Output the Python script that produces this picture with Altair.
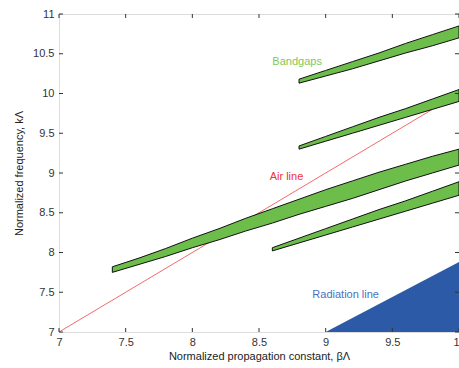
import altair as alt
import pandas as pd

# Bandgap 1 (long lower-left band)
b1_x = [7.4, 7.6, 7.8, 8.0, 8.2, 8.4, 8.6, 8.8, 9.0, 9.2, 9.4, 9.6, 9.8, 10.0]
b1_lo = [7.75, 7.85, 7.95, 8.06, 8.16, 8.27, 8.37, 8.48, 8.58, 8.68, 8.79, 8.90, 9.00, 9.10]
b1_hi = [7.82, 7.93, 8.05, 8.18, 8.30, 8.43, 8.55, 8.67, 8.79, 8.90, 9.01, 9.11, 9.21, 9.30]
# Bandgap 2
b2_x = [8.6, 8.8, 9.0, 9.2, 9.4, 9.6, 9.8, 10.0]
b2_lo = [8.02, 8.12, 8.22, 8.32, 8.42, 8.52, 8.62, 8.72]
b2_hi = [8.06, 8.18, 8.30, 8.42, 8.54, 8.65, 8.77, 8.89]
# Bandgap 3
b3_x = [8.8, 9.0, 9.2, 9.4, 9.6, 9.8, 10.0]
b3_lo = [9.30, 9.40, 9.50, 9.60, 9.70, 9.80, 9.90]
b3_hi = [9.34, 9.46, 9.58, 9.70, 9.81, 9.93, 10.05]
# Bandgap 4
b4_x = [8.8, 9.0, 9.2, 9.4, 9.6, 9.8, 10.0]
b4_lo = [10.13, 10.22, 10.31, 10.41, 10.51, 10.60, 10.70]
b4_hi = [10.18, 10.29, 10.40, 10.51, 10.63, 10.74, 10.85]

air_x = [7.0, 10.0]
air_y = [7.0, 10.0]

rad_x = [9.0, 9.5, 10.0]
rad_y = [7.0, 7.44, 7.88]

x_ticks = [7, 7.5, 8, 8.5, 9, 9.5, 10]
y_ticks = [7, 7.5, 8, 8.5, 9, 9.5, 10, 10.5, 11]

FONT = "Liberation Sans"
W, H = 400, 318
XT = "Normalized propagation constant, βΛ"
YT = "Normalized frequency, kΛ"

bands = []
for i, (bx, lo, hi) in enumerate([(b1_x, b1_lo, b1_hi), (b2_x, b2_lo, b2_hi),
                                  (b3_x, b3_lo, b3_hi), (b4_x, b4_lo, b4_hi)]):
    for a, l, h in zip(bx, lo, hi):
        bands.append({"band": i, "x": a, "lo": l, "hi": h})
bands_df = pd.DataFrame(bands)

xs = alt.Scale(domain=[7, 10], nice=False, zero=False)
ys = alt.Scale(domain=[7, 11], nice=False, zero=False)

xaxis = alt.Axis(values=x_ticks, format="~g", ticks=False, domain=False, grid=False,
                 labelFont=FONT, labelFontSize=11, labelColor="#333333",
                 labelPadding=4, titleFont=FONT, titleFontSize=11,
                 titleFontWeight="normal", titleColor="#222222", titlePadding=3,
                 labelFlush=False, labelOverlap=False)
yaxis = alt.Axis(values=y_ticks, format="~g", ticks=False, domain=False, grid=False,
                 labelFont=FONT, labelFontSize=11, labelColor="#333333",
                 labelPadding=5, titleFont=FONT, titleFontSize=11,
                 titleFontWeight="normal", titleColor="#222222", titlePadding=8,
                 labelFlush=False, labelOverlap=False)


def X(f):
    return alt.X(f, type="quantitative", scale=xs, axis=xaxis, title=XT)


def Y(f):
    return alt.Y(f, type="quantitative", scale=ys, axis=yaxis, title=YT)


rad = alt.Chart(pd.DataFrame({"x": rad_x, "y": rad_y})).mark_area(
    color="#2c5aa7", opacity=1).encode(x=X("x"), y=Y("y"), y2=alt.datum(7))

air = alt.Chart(pd.DataFrame({"x": air_x, "y": air_y})).mark_line(
    color="#f04545", strokeWidth=1, opacity=0.8).encode(x=X("x"), y=Y("y"))

band_layer = alt.Chart(bands_df).mark_area(
    fill="#6cbd4a", stroke="#111111", strokeWidth=1, fillOpacity=1).encode(
    x=X("x"), y=Y("lo"), y2="hi:Q", detail="band:N")

labels_df = pd.DataFrame({
    "x": [8.6, 8.58, 8.90],
    "y": [10.40, 8.95, 7.47],
    "t": ["Bandgaps", "Air line", "Radiation line"],
    "c": ["#7ec85c", "#ee3333", "#4a70c0"],
})
labels = alt.Chart(labels_df).mark_text(
    align="left", baseline="middle", font=FONT, fontSize=11).encode(
    x=X("x"), y=Y("y"), text="t:N", color=alt.Color("c:N", scale=None))

tk = 4
xt = pd.DataFrame({"v": x_ticks})
yt = pd.DataFrame({"v": y_ticks})
tick_color = "#333333"
xb = alt.Chart(xt).mark_rule(color=tick_color).encode(
    x=X("v"), y=alt.value(H), y2=alt.value(H - tk))
xtp = alt.Chart(xt).mark_rule(color=tick_color).encode(
    x=X("v"), y=alt.value(0), y2=alt.value(tk))
yl = alt.Chart(yt).mark_rule(color=tick_color).encode(
    y=Y("v"), x=alt.value(0), x2=alt.value(tk))
yr = alt.Chart(yt).mark_rule(color=tick_color).encode(
    y=Y("v"), x=alt.value(W), x2=alt.value(W - tk))

chart = alt.layer(rad, air, band_layer, labels, xb, xtp, yl, yr).properties(
    width=W, height=H,
    autosize=alt.AutoSizeParams(type="none"),
    padding={"left": 59, "top": 14, "right": 0, "bottom": 36},
).configure_view(stroke="#222222", strokeWidth=1).configure(background="white")

chart.save("out.html", embed_options={"renderer": "svg", "actions": False})
